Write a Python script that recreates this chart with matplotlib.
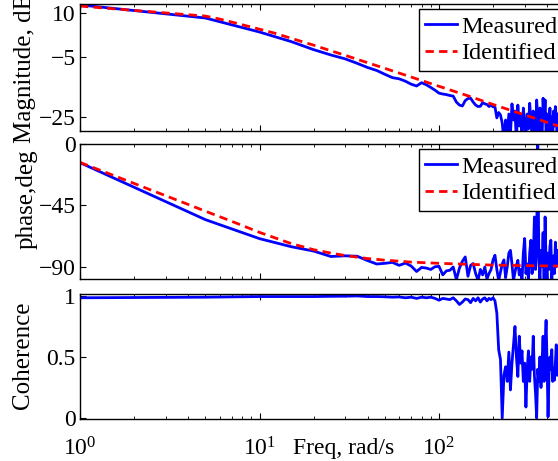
import matplotlib
matplotlib.use("Agg")
import matplotlib.pyplot as plt

plt.rcParams['font.family'] = ['Liberation Serif', 'DejaVu Serif']
plt.rcParams['mathtext.fontset'] = 'custom'
plt.rcParams['mathtext.rm'] = 'Liberation Serif'
plt.rcParams['mathtext.it'] = 'Liberation Serif:italic'

# ---------------- data ----------------
freq_meas = [1, 5, 10, 15, 20, 25, 30, 35, 40, 45, 50, 55, 60, 65, 70, 75, 80, 85, 90, 95,
             100, 105, 110, 115, 120, 125, 130, 135, 140, 145, 150, 155, 160, 165, 170, 175,
             180, 185, 190, 195, 200, 205, 210, 215, 220, 225, 230, 235, 240, 245, 250, 255,
             260, 265, 270, 275, 280, 285, 290, 295, 300, 305, 310, 315, 320, 325, 330, 335,
             340, 345, 350, 355, 360, 365, 370, 375, 380, 385, 390, 395, 400, 405, 410, 415,
             420, 425, 430, 435, 440, 445, 450, 455, 460]

mag_meas = [12.6, 8.2, 3.5, 0.3, -2.4, -4.2, -5.5, -7.0, -8.4, -9.4, -10.7, -11.8, -12.2, -13.0,
            -14.0, -14.6, -13.5, -14.2, -15.1, -16.0, -17.0, -17.3, -17.5, -17.8, -18.0, -20.0,
            -21.0, -21.3, -19.5, -18.8, -18.7, -20.0, -21.0, -21.5, -21.4, -20.2, -20.6, -20.8,
            -21.5, -21.0, -21.6, -21.6, -25.3, -23.5, -24.3, -27.0, -33.0, -26.0, -30.5, -24.0,
            -31.0, -20.6, -26.0, -23.0, -33.0, -21.0, -28.0, -24.0, -33.0, -22.0, -27.0, -31.0,
            -24.0, -29.0, -20.4, -26.0, -32.0, -23.0, -28.0, -33.0, -19.3, -25.0, -31.0, -22.0,
            -28.0, -33.0, -18.7, -26.0, -19.3, -31.0, -24.0, -33.0, -27.0, -22.0, -30.0, -25.0,
            -32.0, -23.0, -28.0, -21.5, -26.0, -31.0, -24.0]

phase_meas = [-13.7, -55.5, -69.4, -75.3, -78.5, -82.5, -82.0, -82.3, -85.5, -88.0, -87.5, -86.8,
              -89.0, -87.3, -89.5, -93.5, -90.5, -91.0, -92.0, -90.0, -89.7, -96.0, -93.0, -92.6,
              -90.2, -99.5, -91.0, -86.0, -82.8, -97.0, -89.0, -87.7, -95.0, -100.0, -92.0, -96.0,
              -90.2, -99.0, -95.0, -92.0, -85.0, -81.6, -92.0, -100.0, -94.0, -88.0, -85.0, -98.0,
              -90.0, -80.0, -78.0, -88.0, -100.0, -94.0, -89.0, -85.3, -96.0, -92.0, -100.0, -80.0,
              -69.3, -95.0, -88.0, -100.0, -80.0, -70.6, -95.0, -86.0, -53.5, -92.0, -70.0, 5.0,
              -85.0, -99.0, -78.0, -90.0, -65.0, -100.0, -53.5, -88.0, -99.0, -80.0, -92.0, -75.0,
              -70.6, -99.0, -88.0, -82.0, -95.0, -72.0, -90.0, -85.0, -78.0]

coh_meas = [0.985, 0.99, 0.995, 0.995, 0.995, 0.997, 0.998, 1.0, 0.995, 0.995, 0.993, 0.99,
            0.992, 0.985, 0.99, 0.98, 0.99, 0.985, 0.99, 0.98, 0.965, 0.98, 0.975, 0.97, 0.985,
            0.96, 0.93, 0.95, 0.975, 0.97, 0.945, 0.98, 0.96, 0.985, 0.95, 0.975, 0.985, 0.96,
            0.98, 0.97, 0.985, 0.96, 0.86, 0.56, 0.48, 0.0, 0.35, 0.42, 0.3, 0.54, 0.23, 0.45,
            0.6, 0.75, 0.5, 0.34, 0.67, 0.45, 0.55, 0.3, 0.45, 0.09, 0.4, 0.55, 0.3, 0.5, 0.4,
            0.67, 0.35, 0.2, 0.0, 0.4, 0.3, 0.5, 0.25, 0.45, 0.67, 0.3, 0.6, 0.8, 0.45, 0.01,
            0.35, 0.5, 0.4, 0.56, 0.3, 0.4, 0.31, 0.45, 0.6, 0.35, 0.5]

freq_id = [1, 1.5, 2, 2.5, 3, 4, 5, 6, 7, 8, 10, 12, 15, 20, 25, 30, 40, 50, 70, 100,
           150, 200, 300, 460]
mag_id = [12.2, 11.35, 10.75, 10.3, 9.9, 9.3, 8.85, 7.85, 6.85, 5.95, 4.45, 3.2, 1.4, -0.9,
          -2.8, -4.3, -6.8, -8.7, -11.6, -14.7, -18.2, -20.8, -24.3, -28.0]
phase_id = [-13.5, -22.5, -28.9, -33.9, -37.9, -44.3, -49.3, -53.3, -56.7, -59.7, -64.8, -68.5,
            -73.0, -77.5, -80.0, -81.8, -84.0, -85.2, -86.6, -87.5, -88.3, -88.8, -89.2, -89.5]

mag_ticks = [-25, -5, 10]
phase_ticks = [-90, -45, 0]
coh_ticks = [0, 0.5, 1]
coh_ticklabels = ["0", "0.5", "1"]

# ---------------- figure ----------------
W, H = 558, 461
fig = plt.figure(figsize=(W / 100, H / 100), dpi=100)

left = 80 / W
width = 538.5 / W
ax1 = fig.add_axes([left, 1 - 131 / H, width, 127 / H])
ax2 = fig.add_axes([left, 1 - 279 / H, width, 135 / H])
ax3 = fig.add_axes([left, 1 - 419 / H, width, 125 / H])

blue = (0, 0, 1)
red = (1, 0, 0)
lw = 2.0
dash = (3.0, 1.9)

ax1.semilogx(freq_meas, mag_meas, color=blue, lw=lw, label="Measured")
ax1.semilogx(freq_id, mag_id, color=red, lw=lw, ls='--', dashes=dash, label="Identified")
ax1.set_ylim(-29.7, 12.9)
ax1.set_yticks(mag_ticks)

ax2.semilogx(freq_meas, phase_meas, color=blue, lw=lw, label="Measured")
ax2.semilogx(freq_id, phase_id, color=red, lw=lw, ls='--', dashes=dash, label="Identified")
ax2.set_ylim(-99, 0)
ax2.set_yticks(phase_ticks)

ax3.semilogx(freq_meas, coh_meas, color=blue, lw=lw)
ax3.set_ylim(-0.008, 1.016)
ax3.set_yticks(coh_ticks)
ax3.set_yticklabels(coh_ticklabels)

for ax in (ax1, ax2, ax3):
    ax.set_xlim(1, 1000)
    ax.tick_params(which='both', direction='in', top=True, right=True, labelsize=17)
    ax.tick_params(which='major', length=4, width=0.8, pad=3)
    ax.tick_params(which='minor', length=2.5, width=0.6)
    ax.tick_params(axis='x', which='major', pad=13)
    for s in ax.spines.values():
        s.set_linewidth(1.0)

ax1.tick_params(axis='x', which='both', labelbottom=False)
ax2.tick_params(axis='x', which='both', labelbottom=False)

ylab = dict(fontsize=18, rotation=90, rotation_mode='anchor', ha='center', va='center')
ax1.set_ylabel("Magnitude, dB", **ylab)
ax1.yaxis.set_label_coords(-0.103, 0.5)
ax2.set_ylabel("phase,deg", **ylab)
ax2.yaxis.set_label_coords(-0.099, 0.59)
ax3.set_ylabel("Coherence", **ylab)
ax3.yaxis.set_label_coords(-0.106, 0.51)

ax3.set_xlabel("Freq, rad/s", fontsize=17, va='center')
ax3.xaxis.set_label_coords(0.49, -0.235)

legkw = dict(loc='upper left', bbox_transform=fig.transFigure, borderaxespad=0,
             fontsize=17.5, frameon=True, fancybox=False, framealpha=1, edgecolor='black',
             borderpad=0.25, labelspacing=0.2, handlelength=1.3, handletextpad=0.2)
l1 = ax1.legend(bbox_to_anchor=(419 / W, 1 - 9.5 / H), **legkw)
l2 = ax2.legend(bbox_to_anchor=(419 / W, 1 - 149.5 / H), **legkw)
for l in (l1, l2):
    l.get_frame().set_linewidth(1.0)

fig.savefig("out.png", dpi=100)
